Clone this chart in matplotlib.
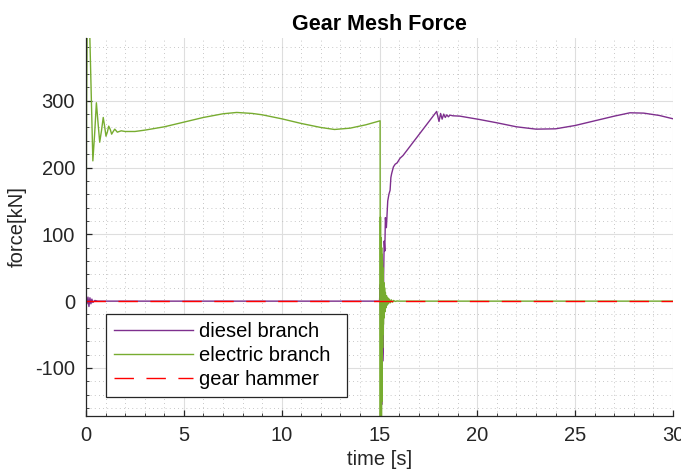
import matplotlib
matplotlib.use("Agg")
import matplotlib.pyplot as plt
from matplotlib.ticker import MultipleLocator

plt.rcParams['font.family'] = ['Liberation Sans', 'DejaVu Sans']
plt.rcParams['axes.unicode_minus'] = False

# ---- data ----
t_diesel = [0, 0.05, 0.1, 0.15, 0.2, 0.25, 0.3, 0.35, 0.45, 0.6, 15.0, 15.04, 15.06,
            15.08, 15.11, 15.13, 15.16, 15.19, 15.21, 15.24, 15.27, 15.30, 15.35, 15.42,
            15.48, 15.54, 15.58, 15.62, 15.71, 15.8, 15.9, 16.05, 16.2, 17.92, 18.04,
            18.12, 18.2, 18.28, 18.36, 18.44, 18.52, 18.6, 18.75, 19.1, 20.1, 21.0,
            22.0, 23.0, 24.0, 25.0, 26.0, 27.0, 27.8, 28.5, 29.3, 30.0]
diesel = [0, -4, 6, -8, 5, -4, 3, -2, 1, 0, 0, 25, -50,
          -20, -155, -40, -90, -73, 40, 90, 75, 125, 110, 150,
          160, 166, 185, 191, 201, 205, 207, 214, 218, 284, 269,
          281, 272.5, 280, 275, 279, 276, 278.5, 277.5, 277, 272, 267,
          261, 257.5, 258, 263, 270, 277, 282, 281.5, 278, 273]

t_electric = [0, 0.03, 0.08, 0.14, 0.2, 0.35, 0.44, 0.53, 0.62, 0.70, 0.79, 0.88, 0.95,
              1.02, 1.09, 1.16, 1.24, 1.31, 1.39, 1.47, 1.6, 1.8, 2.0, 2.5, 3.0, 4.0,
              5.0, 6.0, 7.0, 7.7, 8.5, 9.0, 10.0, 11.0, 12.0, 12.7, 13.5, 14.3, 15.03,
              15.04, 15.05, 15.06, 15.07, 15.08, 15.09, 15.10, 15.11, 15.12, 15.13,
              15.14, 15.15, 15.16, 15.17, 15.18, 15.19, 15.20, 15.22, 15.24, 15.26,
              15.28, 15.30, 15.33, 15.36, 15.39, 15.42, 15.46, 15.50, 15.55, 15.60,
              15.66, 15.72, 15.80, 15.90, 16.0, 30.0]
electric = [0, 300, 480, 460, 390, 210, 250, 297, 265, 238, 255, 275, 262,
            247, 253, 262, 257, 250, 254, 257.5, 253, 255, 254, 254, 256, 261,
            268, 275, 280.5, 282.5, 281, 279, 273, 266, 260, 257, 259, 264, 270,
            -200, 126, -200, 95, -190, 90, -180, 80, -150, 70,
            -100, 60, -70, 50, -50, 40, -35, 28, -25, 20,
            -16, 13, -10, 8, -6, 5, -4, 3, -2.5, 2,
            -1.5, 1, -0.5, 0.3, 0, 0]

t_hammer = [0, 30]
hammer = [0, 0]

labels = ['diesel branch', 'electric branch', 'gear hammer']

# ---- figure ----
fig = plt.figure(figsize=(6.81, 4.73), dpi=100)
ax = fig.add_axes([0.1263, 0.1205, 0.8620, 0.7992])

ax.plot(t_diesel, diesel, color='#7E2F8E', lw=1.0, label=labels[0])
ax.plot(t_electric, electric, color='#77AC30', lw=1.0, label=labels[1])
ax.plot(t_hammer, hammer, color='#FF0000', lw=1.0, linestyle=(0, (14, 9)), label=labels[2])

ax.set_xlim(0, 30)
ax.set_ylim(-172, 394)
ax.xaxis.set_major_locator(MultipleLocator(5))
ax.xaxis.set_minor_locator(MultipleLocator(1))
ax.yaxis.set_major_locator(MultipleLocator(100))
ax.yaxis.set_minor_locator(MultipleLocator(20))

ax.grid(which='major', color='#dedede', lw=0.8, linestyle='-')
ax.grid(which='minor', color='#b5b5b5', lw=0.6, linestyle=(0, (1, 4)))
ax.set_axisbelow(True)

for s in ['top', 'right']:
    ax.spines[s].set_visible(False)
for s in ['left', 'bottom']:
    ax.spines[s].set_color('#262626')
    ax.spines[s].set_linewidth(0.9)

ax.tick_params(which='both', direction='in', colors='#262626', labelsize=14.5, labelcolor='#262626')
ax.tick_params(which='major', length=4.5, width=0.9)
ax.tick_params(which='minor', length=2.2, width=0.6)
ax.tick_params(axis='x', pad=7)
ax.tick_params(axis='y', pad=8)

ax.set_xlabel('time [s]', fontsize=14.5, color='#262626', labelpad=4)
ax.set_ylabel('force[kN]', fontsize=14.5, color='#262626', labelpad=6)
ax.set_title('Gear Mesh Force', fontsize=15.5, fontweight='bold', color='black', pad=6)

leg = ax.legend(loc='lower left', bbox_to_anchor=(0.034, 0.05, 0.4106, 0.0), mode='expand',
                fontsize=14.5, frameon=True, fancybox=False, shadow=False, handlelength=3.9,
                handletextpad=0.3, labelspacing=0.25, borderpad=0.4, borderaxespad=0)
leg.get_frame().set_edgecolor('#262626')
leg.get_frame().set_linewidth(0.9)
leg.get_frame().set_alpha(1)

fig.savefig('out.png', dpi=100)
